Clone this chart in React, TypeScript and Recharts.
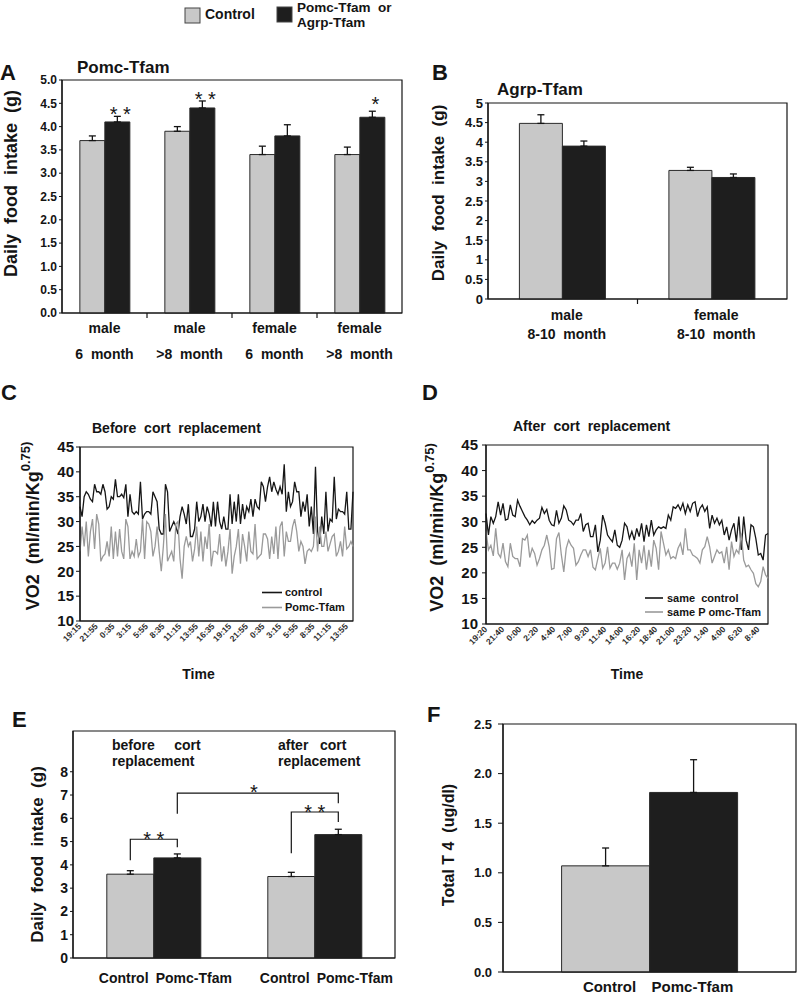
import React from 'react';
import { BarChart, Bar, XAxis, YAxis, ErrorBar, LineChart, Line, Legend, ReferenceArea } from 'recharts';

const FONT = '"Liberation Sans", Arial, Helvetica, sans-serif';
const INK = '#141414';
const GRAY_FILL = '#c8c8c8';
const DARK_FILL = '#1e1e1e';
const BAR_EDGE = '#2a2a2a';
const LINE_CTRL = '#161616';
const LINE_TFAM = '#9a9a9a';

// ---------- Panel A : Pomc-Tfam daily food intake ----------
const aSex = ['male', 'male', 'female', 'female'];
const aAge = ['6  month', '>8  month', '6  month', '>8  month'];
const aControl = [3.7, 3.9, 3.4, 3.4];
const aControlErr = [0.1, 0.1, 0.18, 0.16];
const aTfam = [4.1, 4.4, 3.8, 4.2];
const aTfamErr = [0.12, 0.15, 0.24, 0.13];
const aStars = ['* *', '* *', '', '*'];
const aStarLevel = [4.36, 4.68, 0, 4.57];
const aYTicks = [0, 0.5, 1, 1.5, 2, 2.5, 3, 3.5, 4, 4.5, 5];

// ---------- Panel B : Agrp-Tfam daily food intake ----------
const bSex = ['male', 'female'];
const bAge = ['8-10  month', '8-10  month'];
const bControl = [4.48, 3.28];
const bControlErr = [0.22, 0.08];
const bTfam = [3.9, 3.1];
const bTfamErr = [0.13, 0.09];
const bYTicks = [0, 0.5, 1, 1.5, 2, 2.5, 3, 3.5, 4, 4.5, 5];

// ---------- Panel C : VO2 before cort replacement ----------
const cTimes = ['19:15', '21:55', '0:35', '3:15', '5:55', '8:35', '11:15', '13:55', '16:35', '19:15', '21:55', '0:35', '3:15', '5:55', '8:35', '11:15', '13:55'];
const cControl = [
  33, 31, 35, 36, 35.5, 34.5, 34, 37.5, 36, 36, 35.5, 37.5, 36, 32.5, 33, 35, 34.5, 38.5, 35, 35,
  35.5,
  34.8, 37.5, 31, 35.5, 32, 31.5, 32, 31.5, 38, 30.5, 31.5, 32, 32, 31.5, 36, 35, 34, 28.5, 27.5, 27.5, 37.5, 36, 28, 29, 30,
  29,
  27.5, 31, 33, 31.5, 29.5, 33.5, 27, 27, 28.5, 34, 30, 31, 33.5, 30, 33,
  31.5,
  29, 34, 29, 34, 30, 28.5, 31, 28.5, 28.5, 35.5, 29.5, 34, 30, 35.5, 29.5, 33.5, 30.5,
  33,
  32, 34.5, 31, 34.5, 33, 32.5, 38, 37, 34, 37, 39, 36, 38,
  36.5,
  35.5, 37, 35.5, 41.5, 32, 36, 33, 34, 38, 36, 36, 31, 34, 32, 35.5, 29, 33, 27.5, 41, 28, 25.5, 31, 27.5, 36, 28, 30.5, 30, 39, 30.5, 32.5, 32, 32, 31.5, 36, 28.5, 28.5, 36,
];
const cTfam = [
  24, 29, 25, 30, 23, 28, 30.5, 24.5, 31.5, 29.5, 22, 23, 23.5, 26, 23, 29, 22.5, 28, 23, 28.5, 24, 22.5, 30.5, 29, 22.5, 24, 23, 26.5, 23, 24, 30.5, 22.5, 30, 29.5, 28, 23, 25, 29,
  24,
  20, 25, 31.5, 22, 23, 24, 22, 29.5, 30, 22.5, 18.5, 25, 27, 25, 26, 22, 24.5, 29, 23, 28, 22, 27,
  24.5,
  29.5, 21, 24, 24, 23.5, 27.5, 22, 25, 21, 24, 28.5, 19.5, 23, 25, 28.5, 21.5, 27.5, 25, 22, 28, 24, 23.5, 29.5, 22.5, 23, 23.5, 27.5, 27.5, 26.5, 22.5, 27, 23.5, 29, 22.5, 29, 30, 23, 28, 26, 26,
  29,
  30.5, 28, 24, 26, 25, 21.5, 24, 24.5, 24, 25, 31, 24, 29, 25, 25, 28, 24, 25.5, 27, 27.5, 23, 24, 26, 23, 29, 24.5, 25, 26, 25,
];

// ---------- Panel D : VO2 after cort replacement ----------
const dTimes = ['19:20', '21:40', '0:00', '2:20', '4:40', '7:00', '9:20', '11:40', '14:00', '16:20', '18:40', '21:00', '23:20', '1:40', '4:00', '6:20', '8:40'];
const dControl = [
  31.6, 27.4, 31, 29.7, 31, 33.9, 31.3, 33.6, 30.3, 30.5, 33.3, 31.3, 31, 34.2, 33, 32, 31, 30.3, 29.4, 30.2,
  29.7, 30.3, 30.7, 32.8, 31.6, 32.4, 30.3, 29.4, 29.2, 32.2, 29.7, 30.7, 33.1, 32.3, 30.3, 30, 29.4, 30.3, 30.3, 31.6,
  28.1, 29.4, 29.7, 27.1, 27.1, 29.4, 24.1, 26.4, 31.3, 29.7, 27.4, 26.7, 26.1, 28.4, 25.4, 25, 26.4, 29.7, 29,
  26.7, 28.1, 26.4, 28.7, 27.1, 29.7, 26.1, 29.4, 27.1, 30.3, 27.4, 28.4, 29, 28.7, 29, 28.7, 31.3, 30.3, 32.9, 32.6,
  33.3, 32.3, 33.6, 31.6, 33.3, 32, 33.6, 33.9, 31, 32.6, 33.3, 32, 32.9, 28.7, 31.3, 29.7, 30.7, 29.4, 30.3, 27.4,
  29, 26.4, 28.4, 29.7, 26.1, 31, 24.5, 31, 26.4, 24.5, 29.4, 29, 26.7, 23.5, 23.8, 22.5, 27.4, 27.7,
];
const dTfam = [
  28.1, 24.5, 25.4, 23.3, 28.7, 23.8, 23, 25.8, 22.2, 21.2, 25.8, 23.2, 22.8, 22.8, 21.2, 26.7, 26.4, 27.4, 23, 24.8,
  23.8, 21.5, 22.8, 24.5, 25.4, 27.4, 25.1, 20.7, 20.9, 26.7, 27.9, 23.5, 20.2, 24.8, 26.4, 25.4, 24.8, 21.5, 22.2, 23.5,
  24.5, 24.5, 23.2, 24.5, 21.1, 20.6, 22.8, 24.8, 20.9, 21.9, 25.1, 20.9, 21.9, 21.9, 20.7, 21.9, 24.5, 18.6, 22.8,
  23.8, 21.2, 25.8, 18.6, 24.5, 21.9, 25.4, 20.6, 24.5, 21.2, 26.4, 24.8, 20.6, 28.1, 25.8, 23.5, 24.5, 22.8, 23.2, 22.8,
  24.8, 25.8, 23.5, 28.7, 24.5, 24.5, 23.5, 23.2, 22.8, 21.9, 24.5, 25.1, 27.1, 25.1, 21.9, 23.2, 24.5, 23.8, 24.1, 21.9,
  25.1, 20.6, 26.1, 23.2, 24.5, 23.8, 27.7, 22.5, 21.2, 21.5, 20.6, 19.9, 17.9, 17.3, 18.3, 21.2, 19.6, 18.9,
];
const vo2Ticks = [10, 15, 20, 25, 30, 35, 40, 45];

// ---------- Panel E : food intake before / after cort ----------
const eGroups = ['before', 'after'];
const eTickLeft = ['Control', 'Control'];
const eTickRight = ['Pomc-Tfam', 'Pomc-Tfam'];
const eControl = [3.6, 3.5];
const eControlErr = [0.15, 0.18];
const eTfam = [4.3, 5.3];
const eTfamErr = [0.17, 0.23];
const eBrkCtrlLow = [4.2, 4.5];
const eBrkTop = [5.1, 6.27];
const eBrkTfamLow = [4.76, 5.84];
const eStars = ['* *', '* *'];
const eStarLevel = [5.3, 6.45];
const eBigBracket = { leftLow: 6.2, top: 7.08, rightLow: 6.65, starLevel: 7.3, stars: '*' };
const eYTicks = [0, 1, 2, 3, 4, 5, 6, 7, 8];

// ---------- Panel F : total T4 ----------
const fGroups = ['T4'];
const fTickLeft = ['Control'];
const fTickRight = ['Pomc-Tfam'];
const fControl = [1.07];
const fControlErr = [0.18];
const fTfam = [1.81];
const fTfamErr = [0.33];
const fYTicks = [0, 0.5, 1, 1.5, 2, 2.5];

// ---------- tables built from the arrays ----------
const rowsA = aSex.map((s, i) => ({ label: `${s}|${aAge[i]}`, c: aControl[i], cErr: [0, aControlErr[i]], t: aTfam[i], tErr: [0, aTfamErr[i]] }));
const rowsB = bSex.map((s, i) => ({ label: `${s}|${bAge[i]}`, c: bControl[i], cErr: [0, bControlErr[i]], t: bTfam[i], tErr: [0, bTfamErr[i]] }));
const rowsC = cControl.map((v, i) => ({ i, ctrl: v, tfam: cTfam[i] }));
const rowsD = dControl.map((v, i) => ({ i, ctrl: v, tfam: dTfam[i] }));
const rowsE = eGroups.map((g, i) => ({ g, c: eControl[i], cErr: [0, eControlErr[i]], t: eTfam[i], tErr: [0, eTfamErr[i]] }));
const rowsF = fGroups.map((g, i) => ({ g, c: fControl[i], cErr: [0, fControlErr[i]], t: fTfam[i], tErr: [0, fTfamErr[i]] }));

const txtStyle: any = { whiteSpace: 'pre' };

// ---------- helpers ----------
const rectOf = (p: any) => {
  const v = p && p.viewBox && p.viewBox.width != null ? p.viewBox : p;
  return { x: Number(v.x), y: Number(v.y), w: Number(v.width), h: Number(v.height) };
};

const YTitle = (props: any) => {
  const { viewBox, tx = 0, tdy = 0, title, sup, fs = 17 } = props;
  const vb = viewBox || { x: 0, y: 0, width: 0, height: 0 };
  const X = vb.x + tx;
  const Y = vb.y + vb.height / 2 + tdy;
  return (
    <text x={X} y={Y} transform={`rotate(-90 ${X} ${Y})`} textAnchor="middle" dominantBaseline="central"
      fontSize={fs} fontWeight={700} fontFamily={FONT} fill={INK} xmlSpace="preserve" style={txtStyle}>
      {title}
      {sup ? <tspan dy={-fs * 0.42} fontSize={fs * 0.72}>{sup}</tspan> : null}
    </text>
  );
};

const XTitle = (props: any) => {
  const { viewBox, tdx = 0, base = 0, title, fs = 14 } = props;
  const vb = viewBox || { x: 0, y: 0, width: 0, height: 0 };
  return (
    <text x={vb.x + vb.width / 2 + tdx} y={vb.y + base} textAnchor="middle" fontSize={fs} fontWeight={700}
      fontFamily={FONT} fill={INK}>{title}</text>
  );
};

const TwoLineTick = (props: any) => {
  const { x, y, payload, index, visibleTicksCount, gap1, gap2, fs, boundary, dx = 0 } = props;
  const [l1, l2] = String(payload.value).split('|');
  const half = payload && payload.offset != null ? Number(payload.offset)
    : (props.width && visibleTicksCount ? props.width / visibleTicksCount / 2 : 0);
  return (
    <g>
      <text x={x + dx} y={y + gap1} textAnchor="middle" fontSize={fs} fontWeight={700} fontFamily={FONT} fill={INK} xmlSpace="preserve" style={txtStyle}>{l1}</text>
      <text x={x + dx} y={y + gap2} textAnchor="middle" fontSize={fs} fontWeight={700} fontFamily={FONT} fill={INK} xmlSpace="preserve" style={txtStyle}>{l2}</text>
      {boundary && half > 0 && index < visibleTicksCount - 1
        ? <line x1={x + half} x2={x + half} y1={y} y2={y + 5} stroke={INK} strokeWidth={1.2} /> : null}
    </g>
  );
};

const PairTick = (props: any) => {
  const { x, y, payload, index, visibleTicksCount, left, right, gapFrac, dxs, base, fs } = props;
  const half = payload && payload.offset != null ? Number(payload.offset)
    : (props.width && visibleTicksCount ? props.width / visibleTicksCount / 2 : 0);
  const d = (half * (1 - 2 * gapFrac)) / 2;
  return (
    <g>
      <text x={x - d + dxs[0]} y={y + base} textAnchor="middle" fontSize={fs} fontWeight={700} fontFamily={FONT} fill={INK}>{left[index]}</text>
      <text x={x + d + dxs[1]} y={y + base} textAnchor="middle" fontSize={fs} fontWeight={700} fontFamily={FONT} fill={INK}>{right[index]}</text>
    </g>
  );
};

const SlantTick = (props: any) => {
  const { x, y, payload, labels, step } = props;
  const k = Number(payload.value) / step;
  const txt = Number.isInteger(k) ? labels[k] : null;
  if (txt == null) return null;
  return (
    <text x={x} y={y} dy="0.3em" transform={`rotate(-45 ${x} ${y})`} textAnchor="end" fontSize={8.5}
      fontWeight={700} fontFamily={FONT} fill="#2e2e2e">{txt}</text>
  );
};

const LineLegend = (props: any) => {
  const { payload = [], lineW = 20, rowH = 15, fs = 11, gap = 3 } = props;
  return (
    <div style={{ fontFamily: FONT, fontSize: fs, fontWeight: 700, color: INK, lineHeight: `${rowH}px` }}>
      {payload.map((e: any) => (
        <div key={String(e.value)} style={{ display: 'flex', alignItems: 'center', height: rowH, whiteSpace: 'pre' }}>
          <svg width={lineW} height={rowH} style={{ display: 'block' }}>
            <line x1={0} x2={lineW} y1={rowH / 2} y2={rowH / 2} stroke={e.color} strokeWidth={1.6} />
          </svg>
          <span style={{ marginLeft: gap }}>{e.value}</span>
        </div>
      ))}
    </div>
  );
};

const starLabelA = (p: any) => {
  const i = Number(p.index);
  if (!aStars[i]) return null;
  const { x, y, w, h } = rectOf(p);
  const ppu = h / aTfam[i];
  const cy = y + h - aStarLevel[i] * ppu;
  return (
    <text key={`sa${i}`} x={x + w / 2 + 3} y={cy + 11} textAnchor="middle" fontSize={20} fontFamily={FONT}
      fill={INK} xmlSpace="preserve" style={txtStyle}>{aStars[i]}</text>
  );
};

const eScratch: any = { firstTfamCenter: 0 };
const bracketLabelE = (p: any) => {
  const i = Number(p.index);
  const { x, y, w, h } = rectOf(p);
  const ppu = h / eTfam[i];
  const base = y + h;
  const Y = (v: number) => base - v * ppu;
  const cc = x - w / 2;
  const pc = x + w / 2;
  const parts: any[] = [];
  parts.push(
    <path key="b" d={`M${cc},${Y(eBrkCtrlLow[i])} V${Y(eBrkTop[i])} H${pc} V${Y(eBrkTfamLow[i])}`} fill="none" stroke={INK} strokeWidth={1.2} />
  );
  parts.push(
    <text key="s" x={(cc + pc) / 2} y={Y(eStarLevel[i]) + 11} textAnchor="middle" fontSize={20} fontFamily={FONT} fill={INK} xmlSpace="preserve" style={txtStyle}>{eStars[i]}</text>
  );
  if (i === 0) eScratch.firstTfamCenter = pc;
  if (i === 1) {
    const lx = eScratch.firstTfamCenter;
    parts.push(
      <path key="big" d={`M${lx},${Y(eBigBracket.leftLow)} V${Y(eBigBracket.top)} H${pc} V${Y(eBigBracket.rightLow)}`} fill="none" stroke={INK} strokeWidth={1.2} />
    );
    parts.push(
      <text key="bs" x={(lx + pc) / 2 - 4} y={Y(eBigBracket.starLevel) + 11} textAnchor="middle" fontSize={20} fontFamily={FONT} fill={INK}>{eBigBracket.stars}</text>
    );
  }
  return <g key={`be${i}`}>{parts}</g>;
};

const axisLine = { stroke: INK, strokeWidth: 1.2 };
const tickFont = (fs: number) => ({ fontSize: fs, fontWeight: 700, fontFamily: FONT, fill: INK });
const frame = (lo: number, hi: number) => (
  <ReferenceArea y1={lo} y2={hi} fill="none" fillOpacity={0} stroke={INK} strokeWidth={1.2} ifOverflow="visible" />
);

const Abs = ({ left, top, children }: any) => (
  <div style={{ position: 'absolute', left, top }}>{children}</div>
);

const T = (p: any) => (
  <text fontFamily={FONT} fontWeight={700} fill={INK} xmlSpace="preserve" style={txtStyle} {...p} />
);

export default function App() {
  return (
    <div style={{ position: 'absolute', left: 0, top: 0, width: 797, height: 995, background: '#fff', overflow: 'hidden' }}>
      <svg width={797} height={995} style={{ position: 'absolute', left: 0, top: 0 }}>
        {/* figure legend */}
        <rect x={185} y={8} width={15} height={15} fill={GRAY_FILL} stroke="#444" strokeWidth={1} />
        <T x={205} y={19} fontSize={14}>Control</T>
        <rect x={277} y={7} width={15} height={15} fill={DARK_FILL} stroke="#444" strokeWidth={1} />
        <T x={297} y={12} fontSize={13.5}>Pomc-Tfam  or</T>
        <T x={297} y={27} fontSize={13.5}>Agrp-Tfam</T>
        {/* panel letters and titles */}
        <T x={0} y={80} fontSize={22}>A</T>
        <T x={77} y={73} fontSize={17}>Pomc-Tfam</T>
        <T x={432} y={80} fontSize={22}>B</T>
        <T x={497} y={95} fontSize={17}>Agrp-Tfam</T>
        <T x={1} y={400} fontSize={22}>C</T>
        <T x={92} y={433} fontSize={14}>Before  cort  replacement</T>
        <T x={422} y={400} fontSize={22}>D</T>
        <T x={513} y={431} fontSize={14}>After  cort  replacement</T>
        <T x={12} y={727} fontSize={22}>E</T>
        <T x={112} y={750} fontSize={14}>before     cort</T>
        <T x={112} y={766} fontSize={14}>replacement</T>
        <T x={278} y={750} fontSize={14}>after   cort</T>
        <T x={278} y={766} fontSize={14}>replacement</T>
        <T x={427} y={722} fontSize={22}>F</T>
      </svg>

      {/* Panel A */}
      <Abs left={0} top={60}>
        <BarChart width={410} height={306} data={rowsA} margin={{ top: 20, right: 8, bottom: 0, left: 0 }} barCategoryGap="21%" barGap={0}>
          <XAxis dataKey="label" height={53} tickLine={false} tickSize={0} tickMargin={0} axisLine={axisLine} interval={0}
            tick={<TwoLineTick gap1={20} gap2={46} fs={14} boundary />} />
          <YAxis domain={[0, 5]} ticks={aYTicks} interval={0} width={62} tickSize={3} tickMargin={2}
            tickFormatter={(v: number) => v.toFixed(1)} tick={tickFont(12)} axisLine={axisLine} tickLine={{ stroke: INK }}
            label={<YTitle tx={11} tdy={-13} fs={18} title="Daily  food  intake  (g)" />} />
          {frame(0, 5)}
          <Bar dataKey="c" fill={GRAY_FILL} stroke={BAR_EDGE} strokeWidth={1} isAnimationActive={false}>
            <ErrorBar dataKey="cErr" width={3.5} stroke={INK} strokeWidth={1.3} direction="y" />
          </Bar>
          <Bar dataKey="t" fill={DARK_FILL} stroke={BAR_EDGE} strokeWidth={1} isAnimationActive={false} label={starLabelA}>
            <ErrorBar dataKey="tErr" width={3.5} stroke={INK} strokeWidth={1.3} direction="y" />
          </Bar>
        </BarChart>
      </Abs>

      {/* Panel B */}
      <Abs left={400} top={60}>
        <BarChart width={397} height={300} data={rowsB} margin={{ top: 43, right: 10, bottom: 0, left: 0 }} barCategoryGap="21%" barGap={0}>
          <XAxis dataKey="label" height={61} tickLine={false} tickSize={0} tickMargin={0} axisLine={axisLine} interval={0}
            tick={<TwoLineTick gap1={21} gap2={40} fs={14} dx={4} boundary />} />
          <YAxis domain={[0, 5]} ticks={bYTicks} interval={0} width={88} tickSize={3} tickMargin={2}
            tick={tickFont(13)} axisLine={axisLine} tickLine={{ stroke: INK }}
            label={<YTitle tx={38} tdy={-8} fs={17} title="Daily  food  intake  (g)" />} />
          {frame(0, 5)}
          <Bar dataKey="c" fill={GRAY_FILL} stroke={BAR_EDGE} strokeWidth={1} isAnimationActive={false}>
            <ErrorBar dataKey="cErr" width={3.5} stroke={INK} strokeWidth={1.3} direction="y" />
          </Bar>
          <Bar dataKey="t" fill={DARK_FILL} stroke={BAR_EDGE} strokeWidth={1} isAnimationActive={false}>
            <ErrorBar dataKey="tErr" width={3.5} stroke={INK} strokeWidth={1.3} direction="y" />
          </Bar>
        </BarChart>
      </Abs>

      {/* Panel C */}
      <Abs left={0} top={380}>
        <LineChart width={400} height={310} data={rowsC} margin={{ top: 67, right: 47, bottom: 0, left: 0 }}>
          <XAxis dataKey="i" interval={7} height={69} tickLine={false} tickSize={4} tickMargin={0} axisLine={axisLine}
            tick={<SlantTick labels={cTimes} step={8} />}
            label={<XTitle tdx={-18} base={58} fs={14} title="Time" />} />
          <YAxis domain={[10, 45]} ticks={vo2Ticks} interval={0} width={80} tickSize={4} tickMargin={2}
            tick={tickFont(15)} axisLine={axisLine} tickLine={{ stroke: INK }}
            label={<YTitle tx={33} tdy={-8} fs={18} title="VO2  (ml/min/Kg" sup="0.75)" />} />
          {frame(10, 45)}
          <Line dataKey="ctrl" name="control" stroke={LINE_CTRL} strokeWidth={1.3} dot={false} isAnimationActive={false} />
          <Line dataKey="tfam" name="Pomc-Tfam" stroke={LINE_TFAM} strokeWidth={1.3} dot={false} isAnimationActive={false} />
          <Legend layout="vertical" verticalAlign="middle" align="center" itemSorter="dataKey"
            wrapperStyle={{ left: 262, top: 205, width: 110 }} content={<LineLegend rowH={15} fs={11} lineW={20} gap={3} />} />
        </LineChart>
      </Abs>

      {/* Panel D */}
      <Abs left={400} top={380}>
        <LineChart width={397} height={310} data={rowsD} margin={{ top: 65, right: 29, bottom: 0, left: 0 }}>
          <XAxis dataKey="i" interval={6} height={66} tickLine={false} tickSize={4} tickMargin={0} axisLine={axisLine}
            tick={<SlantTick labels={dTimes} step={7} />}
            label={<XTitle tdx={0} base={55} fs={14} title="Time" />} />
          <YAxis domain={[10, 45]} ticks={vo2Ticks} interval={0} width={86} tickSize={4} tickMargin={4}
            tick={tickFont(15)} axisLine={axisLine} tickLine={{ stroke: INK }}
            label={<YTitle tx={37} tdy={-7} fs={18} title="VO2  (ml/min/Kg" sup="0.75)" />} />
          {frame(10, 45)}
          <Line dataKey="ctrl" name="same  control" stroke={LINE_CTRL} strokeWidth={1.3} dot={false} isAnimationActive={false} />
          <Line dataKey="tfam" name="same P omc-Tfam" stroke={LINE_TFAM} strokeWidth={1.3} dot={false} isAnimationActive={false} />
          <Legend layout="vertical" verticalAlign="middle" align="center" itemSorter="dataKey"
            wrapperStyle={{ left: 245, top: 211, width: 130 }} content={<LineLegend rowH={14} fs={11} lineW={18} gap={4} />} />
        </LineChart>
      </Abs>

      {/* Panel E */}
      <Abs left={0} top={690}>
        <BarChart width={420} height={305} data={rowsE} margin={{ top: 41, right: 25, bottom: 0, left: 0 }} barCategoryGap="21%" barGap={0}>
          <XAxis dataKey="g" height={37} tickLine={false} tickSize={0} tickMargin={0} axisLine={axisLine} interval={0}
            tick={<PairTick left={eTickLeft} right={eTickRight} gapFrac={0.21} dxs={[-6.5, 17]} base={25} fs={14} />} />
          <YAxis domain={[0, 9.75]} ticks={eYTicks} interval={0} width={73} tickSize={3} tickMargin={2}
            tick={tickFont(14)} axisLine={axisLine} tickLine={{ stroke: INK }}
            label={<YTitle tx={37} tdy={10} fs={17} title="Daily  food  intake  (g)" />} />
          {frame(0, 9.75)}
          <Bar dataKey="c" fill={GRAY_FILL} stroke={BAR_EDGE} strokeWidth={1} isAnimationActive={false}>
            <ErrorBar dataKey="cErr" width={3.5} stroke={INK} strokeWidth={1.3} direction="y" />
          </Bar>
          <Bar dataKey="t" fill={DARK_FILL} stroke={BAR_EDGE} strokeWidth={1} isAnimationActive={false} label={bracketLabelE}>
            <ErrorBar dataKey="tErr" width={3.5} stroke={INK} strokeWidth={1.3} direction="y" />
          </Bar>
        </BarChart>
      </Abs>

      {/* Panel F */}
      <Abs left={420} top={690}>
        <BarChart width={377} height={305} data={rowsF} margin={{ top: 34, right: 1, bottom: 0, left: 0 }} barCategoryGap="20%" barGap={0}>
          <XAxis dataKey="g" height={23} tickLine={false} tickSize={0} tickMargin={0} axisLine={axisLine} interval={0}
            tick={<PairTick left={fTickLeft} right={fTickRight} gapFrac={0.2} dxs={[4, -1]} base={20} fs={15} />} />
          <YAxis domain={[0, 2.5]} ticks={fYTicks} interval={0} width={83} tickSize={5} tickMargin={6}
            tickFormatter={(v: number) => v.toFixed(1)} tick={tickFont(13)} axisLine={axisLine} tickLine={{ stroke: INK }}
            label={<YTitle tx={28} tdy={-3} fs={16} title="Total T 4  (ug/dl)" />} />
          {frame(0, 2.5)}
          <Bar dataKey="c" fill={GRAY_FILL} stroke={BAR_EDGE} strokeWidth={1} isAnimationActive={false}>
            <ErrorBar dataKey="cErr" width={3.5} stroke={INK} strokeWidth={1.3} direction="y" />
          </Bar>
          <Bar dataKey="t" fill={DARK_FILL} stroke={BAR_EDGE} strokeWidth={1} isAnimationActive={false}>
            <ErrorBar dataKey="tErr" width={3.5} stroke={INK} strokeWidth={1.3} direction="y" />
          </Bar>
        </BarChart>
      </Abs>
    </div>
  );
}
